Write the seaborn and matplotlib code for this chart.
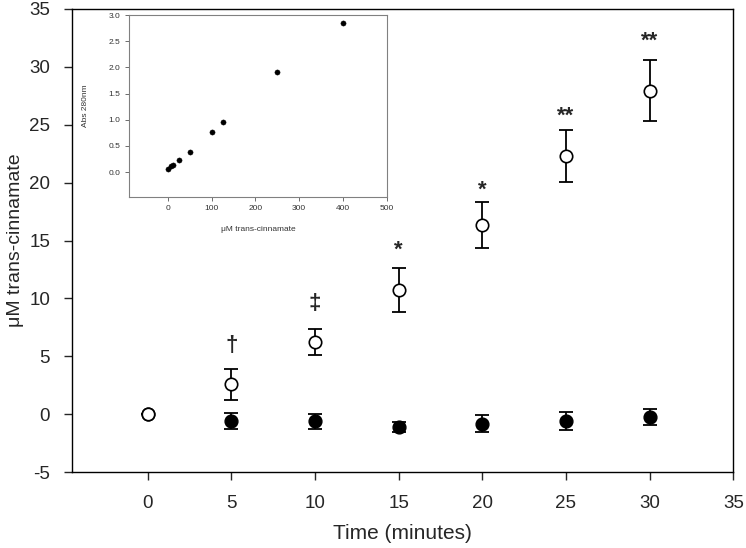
import numpy as np
import pandas as pd
import matplotlib
matplotlib.use("Agg")
import matplotlib.pyplot as plt
import seaborn as sns

# time course (minutes)
time = [0, 5, 10, 15, 20, 25, 30]
# open circles: treated samples
treated_mean = [0.0, 2.6, 6.27, 10.73, 16.37, 22.32, 27.93]
treated_err = [0.0, 1.32, 1.12, 1.92, 1.99, 2.25, 2.63]
# filled circles: controls
control_mean = [0.0, -0.54, -0.6, -1.06, -0.8, -0.57, -0.2]
control_err = [0.0, 0.69, 0.62, 0.44, 0.73, 0.79, 0.69]
# significance marks above the open circles
sig_time = [5, 10, 15, 20, 25, 30]
sig_y = [5.93, 9.58, 14.2, 19.3, 25.7, 32.2]
sig_text = ["\u2020", "\u2021", "*", "*", "**", "**"]

# standard curve for the inset
std_conc = [0, 6.25, 12.5, 25, 50, 100, 125, 250, 400]
std_abs = [0.057, 0.108, 0.127, 0.229, 0.388, 0.757, 0.947, 1.907, 2.848]

sns.set_style("ticks")
plt.rcParams["font.family"] = ["Liberation Sans", "DejaVu Sans"]
plt.rcParams["axes.unicode_minus"] = False

fig = plt.figure(figsize=(7.46, 5.48), dpi=100)
ax = fig.add_axes([0.0969, 0.1381, 0.8861, 0.8460])

df_c = pd.DataFrame({"t": time, "y": control_mean})
df_t = pd.DataFrame({"t": time, "y": treated_mean})

ax.errorbar(time, control_mean, yerr=control_err, fmt="none", ecolor="black",
            elinewidth=1.3, capsize=5, capthick=1.3, zorder=2)
sns.scatterplot(data=df_c, x="t", y="y", ax=ax, color="black", s=85,
                edgecolor="black", linewidth=1.0, zorder=3)
ax.errorbar(time, treated_mean, yerr=treated_err, fmt="none", ecolor="black",
            elinewidth=1.3, capsize=5, capthick=1.3, zorder=4)
sns.scatterplot(data=df_t, x="t", y="y", ax=ax, color="white", s=80,
                edgecolor="black", linewidth=1.2, zorder=5)

for t, y, s in zip(sig_time, sig_y, sig_text):
    ax.text(t, y, s, ha="center", va="center", fontsize=16, fontweight="bold")

ax.set_xlim(-4.5, 35)
ax.set_ylim(-5, 35)
ax.set_xticks(range(0, 36, 5))
ax.set_yticks(range(-5, 36, 5))
ax.tick_params(direction="out", length=6, width=1, labelsize=13.5, pad=10)
for sp in ax.spines.values():
    sp.set_visible(True)
    sp.set_linewidth(1.0)
    sp.set_color("black")
ax.set_xlabel("Time (minutes)", fontsize=15, labelpad=9)
ax.set_ylabel("\u03bcM trans-cinnamate", fontsize=14, labelpad=4)

# inset standard curve
ins = fig.add_axes([0.1729, 0.6411, 0.3455, 0.3315])
sns.scatterplot(x=std_conc, y=std_abs, ax=ins, color="black", s=14,
                edgecolor="black", linewidth=0.3)
ins.set_xlim(-89, 500)
ins.set_ylim(-0.47, 3.0)
ins.set_xticks([0, 100, 200, 300, 400, 500])
ins.set_yticks([0.0, 0.5, 1.0, 1.5, 2.0, 2.5, 3.0])
ins.set_yticklabels(["0.0", "0.5", "1.0", "1.5", "2.0", "2.5", "3.0"])
ins.tick_params(direction="out", length=3, width=0.6, labelsize=6,
                colors="#555555", labelcolor="#333333", pad=3)
for sp in ins.spines.values():
    sp.set_visible(True)
    sp.set_linewidth(0.8)
    sp.set_color("#808080")
ins.set_xlabel("\u03bcM trans-cinnamate", fontsize=6, color="#333333", labelpad=10)
ins.set_ylabel("Abs 280nm", fontsize=6, color="#333333", labelpad=14)

fig.savefig("out.png", dpi=100)
